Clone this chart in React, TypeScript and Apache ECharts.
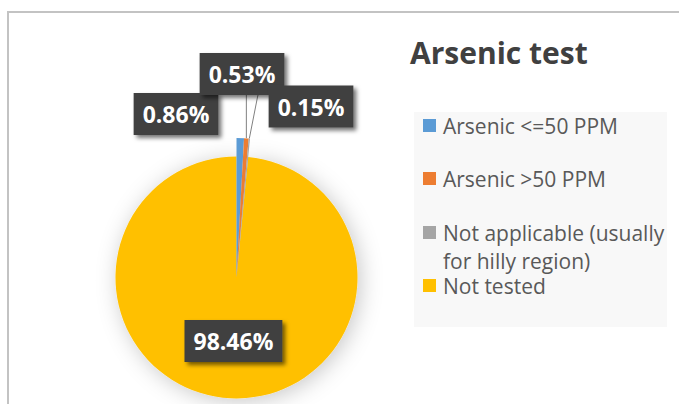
import React, { useEffect, useRef } from "react";
import * as echarts from "echarts";

const categories = [
  "Arsenic <=50 PPM",
  "Arsenic >50 PPM",
  "Not applicable (usually for hilly region)",
  "Not tested",
];
const legendLabels = [
  "Arsenic <=50 PPM",
  "Arsenic >50 PPM",
  " \nNot applicable (usually\nfor hilly region)",
  "Not tested",
];
const values = [0.86, 0.53, 0.15, 98.46];
const colors = ["#5b9bd5", "#ed7d31", "#a5a5a5", "#ffc000"];
const title = "Arsenic test";

const FONT = "Open Sans";
const CENTER: [number, number] = [236.5, 277.5];
const OUTER_SMALL = 139.5;
const OUTER_MAIN = 121;
const LEGEND_CENTERS = [125.5, 178.5, 232.5, 285.5];
const LABEL_POS: Record<number, [number, number]> = {
  0: [176, 114],
  1: [242, 74],
  2: [311, 106.5],
};

const labelBox = {
  color: "#ffffff",
  fontFamily: FONT,
  fontWeight: "bold" as const,
  fontSize: 23,
  lineHeight: 28,
  backgroundColor: "#404040",
  padding: [7, 9],
  shadowColor: "rgba(0,0,0,0.55)",
  shadowBlur: 4,
  shadowOffsetX: 3,
  shadowOffsetY: 3,
};

export default function App() {
  const ref = useRef<HTMLDivElement>(null);
  useEffect(() => {
    if (!ref.current) return;
    const chart = echarts.init(ref.current, undefined, { renderer: "svg" });
    const fmt = (p: any) => `${Number(p.value).toFixed(2)}%`;

    const smallData = categories.map((name, i) => {
      const isMain = i === values.length - 1;
      return {
        name,
        value: values[i],
        itemStyle: { color: isMain ? "rgba(0,0,0,0)" : colors[i] },
        label: { show: !isMain },
        labelLine: { show: i === 1 || i === 2 },
      };
    });
    const mainData = categories.map((name, i) => {
      const isMain = i === values.length - 1;
      return {
        name,
        value: values[i],
        itemStyle: isMain
          ? {
              color: colors[i],
              shadowBlur: 22,
              shadowColor: "rgba(0,0,0,0.22)",
              shadowOffsetX: 3,
              shadowOffsetY: 3,
            }
          : { color: "rgba(0,0,0,0)" },
        label: { show: isMain },
      };
    });

    const legends = categories.map((name, i) => {
      const lines = legendLabels[i].split("\n").length;
      const lh = lines > 1 ? 28 : 22;
      const half = (lines * lh) / 2;
      return {
        orient: "vertical" as const,
        left: 423,
        top: LEGEND_CENTERS[i] - half,
        padding: 0,
        itemWidth: 13,
        itemHeight: 13,
        icon: "rect",
        selectedMode: false,
        data: [{ name, itemStyle: { color: colors[i] } }],
        formatter: () => legendLabels[i],
        textStyle: {
          fontFamily: FONT,
          fontSize: 21,
          lineHeight: lh,
          color: "#595959",
          padding: [0, 0, 0, 2],
        },
      };
    });

    chart.setOption({
      animation: false,
      backgroundColor: "#ffffff",
      title: {
        text: title,
        left: 410,
        top: 32,
        padding: 0,
        textStyle: {
          fontFamily: FONT,
          fontWeight: "bold",
          fontSize: 30,
          lineHeight: 40,
          color: "#404040",
        },
      },
      legend: legends,
      graphic: [
        {
          type: "rect",
          z: -10,
          shape: { x: 8, y: 12, width: 720, height: 500 },
          style: { fill: "none", stroke: "#c3c3c3", lineWidth: 2 },
        },
        {
          type: "rect",
          z: -10,
          shape: { x: 414, y: 112, width: 253, height: 215 },
          style: { fill: "#f8f8f8" },
        },
      ],
      series: [
        {
          type: "pie",
          center: CENTER,
          radius: OUTER_MAIN,
          startAngle: 90,
          clockwise: true,
          silent: true,
          emphasis: { disabled: true },
          label: {
            position: "inside",
            formatter: fmt,
            ...labelBox,
          },
          labelLine: { show: false },
          data: mainData,
          z: 1,
        },
        {
          type: "pie",
          center: CENTER,
          radius: OUTER_SMALL,
          startAngle: 90,
          clockwise: true,
          silent: true,
          emphasis: { disabled: true },
          avoidLabelOverlap: false,
          label: {
            position: "outside",
            formatter: fmt,
            ...labelBox,
          },
          labelLine: {
            show: true,
            length: 10,
            length2: 10,
            lineStyle: { color: "#808080", width: 1 },
          },
          labelLayout: (params: any) => {
            const pos = LABEL_POS[params.dataIndex];
            if (!pos) return {};
            const res: any = {
              x: pos[0],
              y: pos[1],
              align: "center",
              verticalAlign: "middle",
            };
            const start = params.labelLinePoints && params.labelLinePoints[0];
            if (start) {
              if (params.dataIndex === 1) {
                res.labelLinePoints = [
                  [start[0], start[1]],
                  [start[0], 100],
                  [start[0], 95],
                ];
              } else if (params.dataIndex === 2) {
                res.labelLinePoints = [
                  [start[0], start[1]],
                  [257.5, 97],
                  [258, 95],
                ];
              }
            }
            return res;
          },
          data: smallData,
          z: 2,
        },
      ],
    });
    return () => chart.dispose();
  }, []);
  return (
    <div
      ref={ref}
      style={{ position: "absolute", left: 0, top: 0, width: 679, height: 404 }}
    />
  );
}
